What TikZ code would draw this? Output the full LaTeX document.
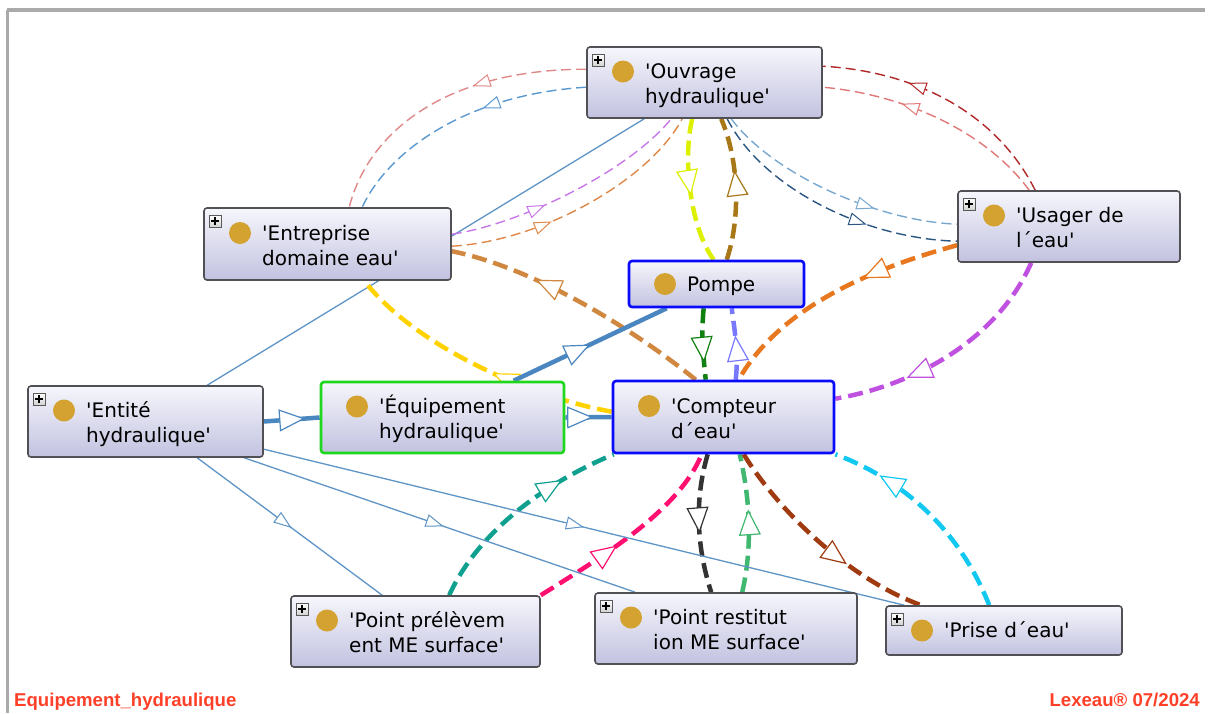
\documentclass[tikz,border=0pt]{standalone}
\usepackage{fontspec}
\newfontfamily\lab{DejaVu Sans}
\newfontfamily\foot{Liberation Sans}
\usetikzlibrary{arrows.meta,decorations.markings}
\pgfdeclarelayer{background}
\pgfsetlayers{background,main}
\definecolor{boxtop}{RGB}{246,246,252}
\definecolor{boxbot}{RGB}{194,194,224}
\definecolor{boxline}{RGB}{80,80,85}
\definecolor{gold}{RGB}{212,162,48}
\definecolor{selblue}{RGB}{10,10,250}
\definecolor{selgreen}{RGB}{30,215,30}
\definecolor{framec}{RGB}{170,170,170}
\definecolor{footred}{RGB}{255,64,40}
\definecolor{cLred}{HTML}{E08888}
\definecolor{cBlue}{HTML}{5A98D0}
\definecolor{cSteel}{HTML}{5E94C6}
\definecolor{cSteelK}{HTML}{4A86BF}
\definecolor{cPurT}{HTML}{C878E8}
\definecolor{cOraT}{HTML}{E08848}
\definecolor{cOraK}{HTML}{D08840}
\definecolor{cYel}{HTML}{FFD200}
\definecolor{cChar}{HTML}{DDF000}
\definecolor{cBrown}{HTML}{A87818}
\definecolor{cDred}{HTML}{B02828}
\definecolor{cLred2}{HTML}{E07878}
\definecolor{cLblue}{HTML}{78A8D0}
\definecolor{cDblue}{HTML}{2A5580}
\definecolor{cOra2}{HTML}{E87820}
\definecolor{cPurK}{HTML}{C050E0}
\definecolor{cDgreen}{HTML}{108010}
\definecolor{cViol}{HTML}{7878FF}
\definecolor{cTeal}{HTML}{10A090}
\definecolor{cPink}{HTML}{FF1070}
\definecolor{cBlack}{HTML}{333333}
\definecolor{cGreen2}{HTML}{40B870}
\definecolor{cBrRed}{HTML}{A03A10}
\definecolor{cCyan}{HTML}{10C8F0}
\tikzset{
  tipk/.tip={Triangle[length=26pt,width=22pt,line width=1.2pt,fill=white]},
  tipn/.tip={Triangle[length=18pt,width=13pt,line width=1pt,fill=white]},
  ak/.style={postaction={decorate,decoration={markings,mark=at position #1 with {\arrow{tipk}}}}},
  an/.style={postaction={decorate,decoration={markings,mark=at position #1 with {\arrow{tipn}}}}},
  thk/.style={line width=4.5pt,dash pattern=on 15pt off 7pt},
  thn/.style={line width=1.4pt,dash pattern=on 10pt off 5pt},
  solk/.style={line width=4.5pt},
  soln/.style={line width=1.3pt},
  ubox/.style={rectangle,rounded corners=3pt,draw=boxline,line width=1.6pt,top color=boxtop,bottom color=boxbot,inner sep=0pt},
  sel/.style={draw=selblue,line width=2.6pt},
  grn/.style={draw=selgreen,line width=2.6pt},
  dot/.style={circle,fill=gold,minimum size=22pt,inner sep=0pt},
  lbl/.style={anchor=base west,inner sep=0pt,font=\lab\fontsize{20}{25}\selectfont},
  plusicon/.style={draw=gray!70!black,line width=0.6pt,minimum size=12pt,inner sep=0pt,top color=white,bottom color=gray!35,
    path picture={\draw[black,line width=1.3pt] ([xshift=-3.8pt]path picture bounding box.center) -- ([xshift=3.8pt]path picture bounding box.center) ([yshift=-3.8pt]path picture bounding box.center) -- ([yshift=3.8pt]path picture bounding box.center);}},
  footlbl/.style={inner sep=0pt,text=footred,font=\foot\bfseries\fontsize{18.6}{20}\selectfont}
}
\newcommand\umlbox[9]{%
  \pgfmathsetmacro\bxX{(#2+#4)/2}%
  \pgfmathsetmacro\bxY{(#3+#5)/2}%
  \pgfmathsetmacro\bxW{#4-#2}%
  \pgfmathsetmacro\bxH{#5-#3}%
  \node[ubox,#6,minimum width=\bxW pt,minimum height=\bxH pt] (#1) at (\bxX,\bxY) {};%
  \if\relax\detokenize{#9}\relax
    \pgfmathsetmacro\bxC{\bxY}%
  \else
    \pgfmathsetmacro\bxC{\bxY-11}%
    \node[lbl] (#1-b) at ({#2+58},{\bxC+32}) {#9};%
  \fi
  \node[dot] (#1-d) at ({#2+36},\bxC) {};%
  \node[lbl] (#1-a) at ({#2+58},{\bxC+7}) {#8};%
  \ifnum#7=1 \node[plusicon] (#1-p) at ({#2+11},{#3+13}) {};\fi
}
\begin{document}
\begin{tikzpicture}[x=1pt,y=-1pt]
\useasboundingbox (0,0) rectangle (1211,713);
\umlbox{ouv}{587}{47}{822}{118}{}{1}{'Ouvrage}{hydraulique'}
\umlbox{ent}{204}{208}{451}{280}{}{1}{'Entreprise}{domaine eau'}
\umlbox{usa}{958}{191}{1180}{262}{}{1}{'Usager de}{l´eau'}
\umlbox{pom}{629}{261}{804}{307}{sel}{0}{Pompe}{}
\umlbox{eth}{28}{386}{263}{457}{}{1}{'Entité}{hydraulique'}
\umlbox{equ}{321}{382}{564}{453}{grn}{0}{'Équipement}{hydraulique'}
\umlbox{cpt}{613}{381}{834}{453}{sel}{0}{'Compteur}{d´eau'}
\umlbox{ppr}{291}{596}{540}{667}{}{1}{'Point prélèvem}{ent ME surface'}
\umlbox{pre}{595}{593}{857}{664}{}{1}{'Point restitut}{ion ME surface'}
\umlbox{pri}{886}{606}{1122}{655}{}{1}{'Prise d´eau'}{}
\node[footlbl,anchor=base west] (footl) at (14,706) {Equipement\_hydraulique};
\node[footlbl,anchor=base east] (footr) at (1200,706) {Lexeau® 07/2024};
\begin{pgfonlayer}{background}
\fill[white] (0,0) rectangle (1211,713);
\draw[framec,line width=4pt] (7,10) -- (1205,10);
\draw[framec,line width=3pt] (7,10) -- (7,713);
% Ouvrage - Entreprise / Entite
\draw[thn,cLred,an=.39] ([yshift=-23pt]ouv.north west) .. controls +(-137,0) and +(20,-78) .. ([xshift=146pt]ent.north west);
\draw[thn,cBlue,an=.4] ([yshift=-41pt]ouv.north west) .. controls +(-117,7) and +(27,-58) .. ([xshift=159pt]ent.north west);
\draw[soln,cSteel] ([xshift=58pt]ouv.south west) -- ([xshift=180pt]eth.north west);
\draw[thn,cPurT,an=.39] ([yshift=-27pt]ent.north east) .. controls +(69,-10) and +(-42,52) .. ([xshift=85pt]ouv.south west);
\draw[thn,cOraT,an=.38] ([yshift=-39pt]ent.north east) .. controls +(89,-5) and +(-33,62) .. ([xshift=96pt]ouv.south west);
% Compteur - Entreprise
\draw[thk,cOraK,ak=.68] ([xshift=84pt]cpt.north west) .. controls +(-57,-46) and +(88,18) .. ([yshift=-44pt]ent.north east);
\draw[thk,cYel,ak=.44] ([yshift=-32pt]cpt.north west) .. controls +(-73,-13) and +(55,70) .. ([xshift=161pt]ent.south west);
% Ouvrage - Pompe
\draw[thk,cChar,ak=.53] ([xshift=106pt]ouv.south west) .. controls +(-10,42) and +(-23,-31) .. ([xshift=86pt]pom.north west);
\draw[thk,cBrown,ak=.63] ([xshift=99pt]pom.north west) .. controls +(14,-41) and +(18,42) .. ([xshift=135pt]ouv.south west);
% Usager - Ouvrage
\draw[thn,cDred,an=.66] ([xshift=78pt]usa.north west) .. controls +(-41,-81) and +(88,5) .. ([yshift=-20pt]ouv.north east);
\draw[thn,cLred2,an=.66] ([xshift=72pt]usa.north west) .. controls +(-45,-61) and +(78,7) .. ([yshift=-41pt]ouv.north east);
\draw[thn,cLblue,an=.67] ([xshift=145pt]ouv.south west) .. controls +(43,57) and +(-78,-3) .. ([yshift=-34pt]usa.north west);
\draw[thn,cDblue,an=.66] ([xshift=141pt]ouv.south west) .. controls +(37,72) and +(-88,-2) .. ([yshift=-51pt]usa.north west);
% Usager - Compteur
\draw[thk,cOra2,ak=.38] ([yshift=-55pt]usa.north west) .. controls +(-88,24) and +(40,-71) .. ([xshift=127pt]cpt.north west);
\draw[thk,cPurK,ak=.7] ([xshift=74pt]usa.south west) .. controls +(-32,73) and +(86,-15) .. ([yshift=-19pt]cpt.north east);
% steel solid
\draw[solk,cSteelK,ak=.5] ([xshift=194pt]equ.north west) -- ([xshift=39pt]pom.south west);
\draw[solk,cSteelK,ak=.74] (eth.east) -- (equ.west);
\draw[solk,cSteelK,ak=.6] (equ.east) -- (cpt.west);
% Pompe - Compteur
\draw[thk,cDgreen,ak=.76] ([xshift=76pt]pom.south west) .. controls +(-3,28) and +(-2,-21) .. ([xshift=94pt]cpt.north west);
\draw[thk,cViol,ak=.62] ([xshift=124pt]cpt.north west) .. controls +(3,-26) and +(3,23) .. ([xshift=104pt]pom.south west);
% Compteur - bottom
\draw[thk,cTeal,ak=.74] ([xshift=159pt]ppr.north west) .. controls +(30,-66) and +(-65,27) .. ([xshift=2pt]cpt.south west);
\draw[thk,cPink,ak=.42] (ppr.north east) .. controls +(59,-37) and +(-23,57) .. ([xshift=90pt]cpt.south west);
\draw[thk,cBlack,ak=.57] ([xshift=96pt]cpt.south west) .. controls +(-14,47) and +(-14,-43) .. ([xshift=117pt]pre.north west);
\draw[thk,cGreen2,ak=.6] ([xshift=148pt]pre.north west) .. controls +(10,-43) and +(11,47) .. ([xshift=128pt]cpt.south west);
\draw[thk,cBrRed,ak=.64] ([xshift=132pt]cpt.south west) .. controls +(35,57) and +(-72,-26) .. ([xshift=36pt]pri.north west);
\draw[thk,cCyan,ak=.78] ([xshift=104pt]pri.north west) .. controls +(-30,-76) and +(67,25) .. (cpt.south east);
% Entite thin
\draw[soln,cSteel,an=.51] ([xshift=170pt]eth.south west) -- ([xshift=92pt]ppr.north west);
\draw[soln,cSteel,an=.51] ([xshift=217pt]eth.south west) -- ([xshift=41pt]pre.north west);
\draw[soln,cSteel,an=.5] ([yshift=-64pt]eth.north east) -- ([xshift=19pt]pri.north west);
\end{pgfonlayer}
\end{tikzpicture}
\end{document}
